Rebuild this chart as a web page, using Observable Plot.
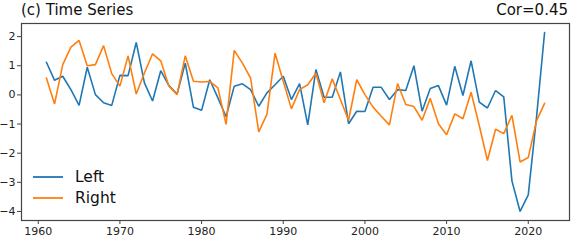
<!DOCTYPE html>
<html>
<head>
<meta charset="utf-8">
<script src="https://cdn.jsdelivr.net/npm/d3@7"></script>
<script src="https://cdn.jsdelivr.net/npm/@observablehq/plot@0.6"></script>
<style>
  html, body { margin: 0; padding: 0; background: #fff; }
  #wrap { position: relative; width: 573px; height: 245px; font-family: "DejaVu Sans", sans-serif; }
  .lbl { position: absolute; color: #111; white-space: nowrap; }
</style>
</head>
<body>
<div id="wrap"></div>
<script>
const years = d3.range(1961, 2023);
const leftValues = [1.12,0.50,0.64,0.18,-0.36,0.95,0.01,-0.27,-0.36,0.67,
  0.66,1.80,0.41,-0.21,0.83,0.32,0.03,1.09,-0.42,-0.53,
  0.52,-0.10,-0.75,0.30,0.38,0.18,-0.39,0.07,0.35,0.64,
  -0.16,0.39,-1.03,0.87,-0.08,-0.08,0.79,-0.99,-0.56,-0.57,
  0.26,0.26,-0.16,0.18,0.15,1.00,-0.56,0.22,0.32,-0.35,
  0.98,-0.02,1.17,-0.25,-0.45,0.15,-0.07,-2.95,-4.00,-3.43,
  -0.80,2.14];
const rightValues = [0.58,-0.31,1.04,1.64,1.87,1.00,1.04,1.69,0.73,0.30,
  1.34,0.03,0.75,1.41,1.17,0.30,0.01,1.34,0.47,0.44,
  0.46,0.24,-1.01,1.53,1.09,0.58,-1.27,-0.67,1.43,0.47,
  -0.48,0.18,0.35,0.74,-0.27,0.55,-0.16,-0.87,0.52,0.01,
  -0.42,-0.73,-1.03,0.39,-0.33,-0.40,-0.87,-0.12,-0.99,-1.37,
  -0.65,-0.82,0.09,-1.05,-2.25,-1.18,-1.33,-0.70,-2.30,-2.15,
  -0.90,-0.29];
const seriesNames = ["Left", "Right"];
const seriesColors = ["#1f77b4", "#ff7f0e"];
const xTicks = [1960, 1970, 1980, 1990, 2000, 2010, 2020];
const yTicks = [-4, -3, -2, -1, 0, 1, 2];
const titleText = "(c) Time Series";
const corText = "Cor=0.45";

const rows = [];
years.forEach((y, i) => {
  rows.push({year: y, value: leftValues[i], series: seriesNames[0]});
  rows.push({year: y, value: rightValues[i], series: seriesNames[1]});
});

const chart = Plot.plot({
  width: 573,
  height: 245,
  marginLeft: 21,
  marginRight: 4,
  marginTop: 23,
  marginBottom: 25,
  style: {fontFamily: "DejaVu Sans, sans-serif", fontSize: "11px", color: "#222", background: "#fff"},
  x: {domain: [1957.95, 2025.05]},
  y: {domain: [-4.31, 2.45]},
  color: {domain: seriesNames, range: seriesColors},
  marks: [
    Plot.line(rows, {x: "year", y: "value", z: "series", stroke: "series", strokeWidth: 1.6, strokeLinejoin: "miter"}),
    Plot.frame({stroke: "#444", strokeWidth: 1.2}),
    Plot.axisX({ticks: xTicks, tickFormat: d => String(d), tickSize: 4, tickPadding: 3, label: null, stroke: "#444"}),
    Plot.axisY({ticks: yTicks, tickFormat: d => d < 0 ? "\u2212" + Math.abs(d) : String(d), tickSize: 4, tickPadding: 2, label: null, stroke: "#444"})
  ]
});

const wrap = document.getElementById("wrap");
wrap.appendChild(chart);

function addLabel(text, css) {
  const d = document.createElement("div");
  d.className = "lbl";
  d.textContent = text;
  Object.assign(d.style, css);
  wrap.appendChild(d);
}
addLabel(titleText, {left: "21px", top: "1px", fontSize: "15px"});
addLabel(corText, {right: "5px", top: "1px", fontSize: "15px"});

// legend
seriesNames.forEach((name, i) => {
  const row = document.createElement("div");
  row.style.position = "absolute";
  row.style.left = "33px";
  row.style.top = (167 + i * 21) + "px";
  row.style.display = "flex";
  row.style.alignItems = "center";
  row.style.height = "20px";
  row.innerHTML = `<svg width="30" height="20"><line x1="0" x2="30" y1="10" y2="10" stroke="${seriesColors[i]}" stroke-width="1.8"/></svg><span style="margin-left:12px;font-size:15.5px;color:#111">${name}</span>`;
  wrap.appendChild(row);
});
</script>
</body>
</html>
